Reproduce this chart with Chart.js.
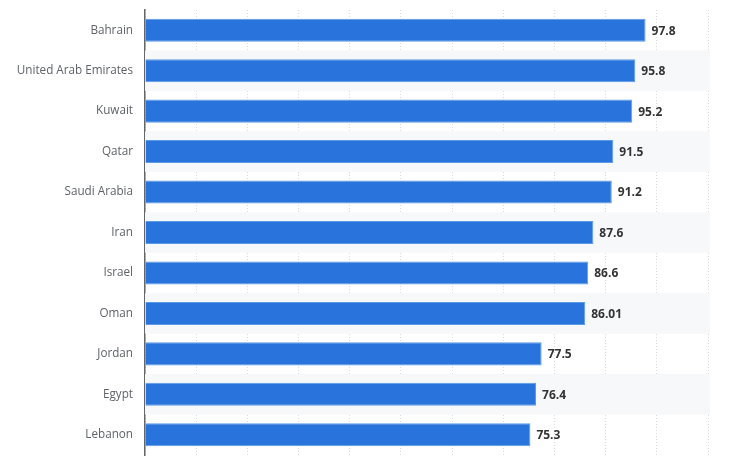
<!DOCTYPE html>
<html>
<head>
<meta charset="utf-8">
<title>Bar chart</title>
<script src="https://cdn.jsdelivr.net/npm/chart.js@4"></script>
<style>
    html, body { margin: 0; padding: 0; background: #ffffff; }
    #wrap { width: 730px; height: 459px; position: relative; }
</style>
</head>
<body>
<div id="wrap"><canvas id="chart"></canvas></div>
<script>
// Chart data
const countries = ['Bahrain', 'United Arab Emirates', 'Kuwait', 'Qatar', 'Saudi Arabia', 'Iran', 'Israel', 'Oman', 'Jordan', 'Egypt', 'Lebanon'];
const values = [97.8, 95.8, 95.2, 91.5, 91.2, 87.6, 86.6, 86.01, 77.5, 76.4, 75.3];
const valueLabels = ['97.8', '95.8', '95.2', '91.5', '91.2', '87.6', '86.6', '86.01', '77.5', '76.4', '75.3'];
const axisMin = 0;
const axisMax = 110;
const axisStep = 10;

const FONT = "'Open Sans', 'DejaVu Sans', sans-serif";

// Alternating row bands behind the bars
const bandsPlugin = {
    id: 'bands',
    beforeDatasetsDraw(chart) {
        const { ctx, chartArea, scales } = chart;
        const y = scales.y;
        const step = (chartArea.bottom - chartArea.top) / countries.length;
        ctx.save();
        ctx.fillStyle = '#f7f8f9';
        countries.forEach((c, i) => {
            if (i % 2 === 1) {
                const cy = y.getPixelForValue(i);
                ctx.fillRect(chartArea.left, cy - step / 2, chartArea.right - chartArea.left + 2, step);
            }
        });
        ctx.restore();
    }
};

// Value labels at the end of each bar
const valueLabelPlugin = {
    id: 'valueLabels',
    afterDatasetsDraw(chart) {
        const { ctx } = chart;
        const meta = chart.getDatasetMeta(0);
        ctx.save();
        ctx.font = 'bold 12px ' + FONT;
        ctx.fillStyle = '#333333';
        ctx.textAlign = 'left';
        ctx.textBaseline = 'middle';
        meta.data.forEach((bar, i) => {
            ctx.fillText(valueLabels[i], bar.x + 6, bar.y + 1);
        });
        ctx.restore();
    }
};

const ctx = document.getElementById('chart').getContext('2d');
const chart = new Chart(ctx, {
    type: 'bar',
    data: {
        labels: countries,
        datasets: [{
            data: values,
            backgroundColor: '#2874dc',
            borderColor: '#5b9be6',
            borderWidth: 1,
            barPercentage: 0.57,
            categoryPercentage: 1
        }]
    },
    options: {
        indexAxis: 'y',
        responsive: true,
        maintainAspectRatio: false,
        animation: false,
        layout: { padding: { left: 0, right: 22, top: 10, bottom: 4 } },
        plugins: {
            legend: { display: false },
            tooltip: { enabled: false }
        },
        scales: {
            x: {
                min: axisMin,
                max: axisMax,
                ticks: { display: false, stepSize: axisStep, padding: 0 },
                grid: { color: '#d6dbe0', lineWidth: 1, drawTicks: false },
                border: { display: false, dash: [1, 2] },
                afterFit(scale) {
                    scale.height = 0;
                    scale.paddingLeft = 0;
                    scale.paddingRight = 0;
                }
            },
            y: {
                ticks: {
                    color: '#5f6368',
                    padding: 12,
                    font: { family: FONT, size: 11.7 }
                },
                grid: { display: false, drawTicks: false },
                border: { display: true, color: '#666666', width: 1.5 },
                afterFit(scale) {
                    scale.width = 145;
                    scale.paddingTop = 0;
                    scale.paddingBottom = 0;
                }
            }
        }
    },
    plugins: [bandsPlugin, valueLabelPlugin]
});
</script>
</body>
</html>
